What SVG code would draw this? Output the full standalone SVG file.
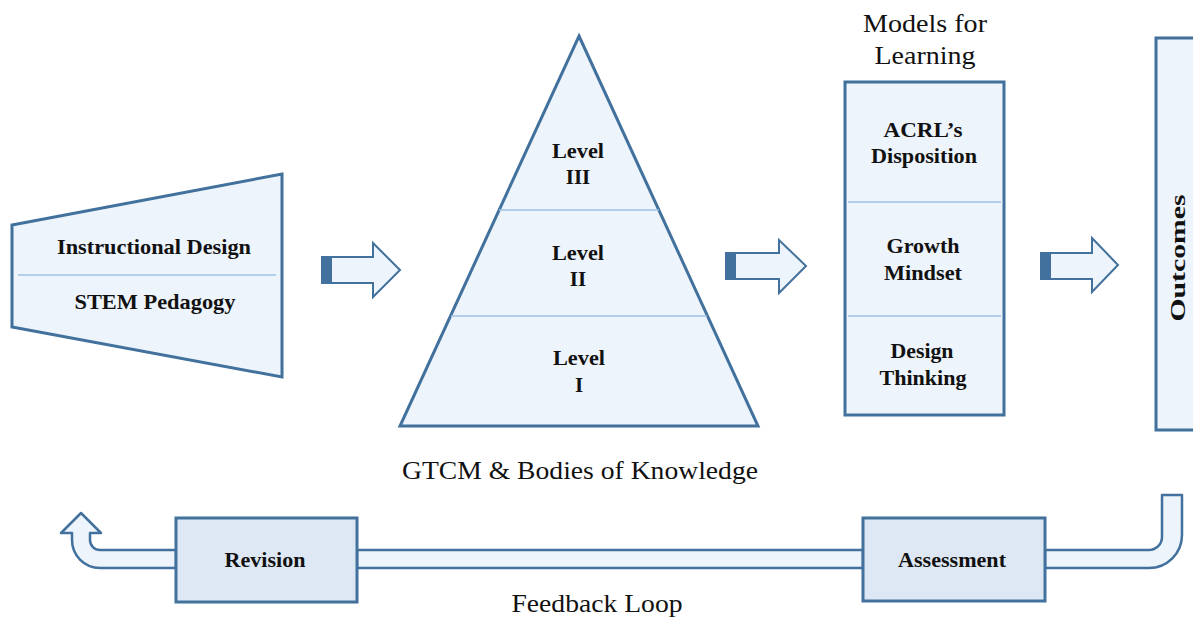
<svg xmlns="http://www.w3.org/2000/svg" width="1193" height="617" viewBox="0 0 1193 617">
<style>
.shape{fill:#EDF4FB;stroke:#41719C;stroke-width:3;stroke-linejoin:miter}
.box{fill:#DEE8F4;stroke:#41719C;stroke-width:3}
.div{stroke:#9DC3E6;stroke-width:1.5;fill:none}
.arrow{fill:#EDF4FB;stroke:#41719C;stroke-width:2}
.pipe{fill:#EDF4FB;stroke:#41719C;stroke-width:2.5;stroke-linejoin:round}
.dark{fill:#41719C}
.b{font-family:"Liberation Serif","Times New Roman",serif;font-weight:bold;font-size:21px;fill:#111;text-anchor:middle}
.r{font-family:"Liberation Serif","Times New Roman",serif;font-size:25px;fill:#111;text-anchor:middle}
</style>
<rect width="1193" height="617" fill="#ffffff"/>

<g id="instructional">
<path class="shape" d="M12,225 L282,174 L282,377 L12,327 Z"/>
<line class="div" x1="18" y1="275" x2="276" y2="275"/>
<text class="b" x="154" y="254" textLength="194" lengthAdjust="spacingAndGlyphs">Instructional Design</text>
<text class="b" x="155" y="309" textLength="161" lengthAdjust="spacingAndGlyphs">STEM Pedagogy</text>
</g>

<g id="pyramid">
<path class="shape" d="M579,36 L758,426 L400,426 Z"/>
<line class="div" x1="499" y1="210" x2="659" y2="210"/>
<line class="div" x1="451" y1="316" x2="707" y2="316"/>
<text class="b" x="578" y="158" textLength="52" lengthAdjust="spacingAndGlyphs">Level</text>
<text class="b" x="578" y="184">III</text>
<text class="b" x="578" y="260" textLength="52" lengthAdjust="spacingAndGlyphs">Level</text>
<text class="b" x="578" y="286">II</text>
<text class="b" x="579" y="365" textLength="52" lengthAdjust="spacingAndGlyphs">Level</text>
<text class="b" x="579" y="392">I</text>
<text class="r" x="580" y="479" font-size="26" textLength="356" lengthAdjust="spacingAndGlyphs">GTCM &amp; Bodies of Knowledge</text>
</g>

<g id="models">
<text class="r" x="925" y="32" textLength="124" lengthAdjust="spacingAndGlyphs">Models for</text>
<text class="r" x="925" y="64" textLength="101" lengthAdjust="spacingAndGlyphs">Learning</text>
<rect class="shape" x="845" y="82" width="159" height="333"/>
<line class="div" x1="848" y1="202" x2="1001" y2="202"/>
<line class="div" x1="848" y1="316" x2="1001" y2="316"/>
<text class="b" x="923" y="137" textLength="79" lengthAdjust="spacingAndGlyphs">ACRL’s</text>
<text class="b" x="924" y="163" textLength="106" lengthAdjust="spacingAndGlyphs">Disposition</text>
<text class="b" x="923" y="253" textLength="73" lengthAdjust="spacingAndGlyphs">Growth</text>
<text class="b" x="923" y="280" textLength="78" lengthAdjust="spacingAndGlyphs">Mindset</text>
<text class="b" x="922" y="358" textLength="63" lengthAdjust="spacingAndGlyphs">Design</text>
<text class="b" x="923" y="385" textLength="87" lengthAdjust="spacingAndGlyphs">Thinking</text>
</g>

<g id="outcomes">
<rect class="shape" x="1156" y="38" width="60" height="392"/>
<text class="b" transform="translate(1185,258) rotate(-90)" x="0" y="0" font-size="25" textLength="127" lengthAdjust="spacingAndGlyphs">Outcomes</text>
</g>

<g id="connectors">
<path class="arrow" d="M322,257 L373,257 L373,243 L400,270 L373,297 L373,283 L322,283 Z"/>
<rect class="dark" x="322" y="257" width="10" height="26"/>
<path class="arrow" d="M726,253 L779,253 L779,240 L806,266 L779,293 L779,279 L726,279 Z"/>
<rect class="dark" x="726" y="253" width="10" height="26"/>
<path class="arrow" d="M1041,253 L1092,253 L1092,238 L1118,265 L1092,292 L1092,279 L1041,279 Z"/>
<rect class="dark" x="1041" y="253" width="10" height="26"/>
<path class="pipe" d="M1045,550 L1149,550 A13,13 0 0 0 1162,537 L1162,495 L1182,495 L1182,535 A33,33 0 0 1 1149,568 L1045,568 Z"/>
<path class="pipe" d="M357,550 L863,550 L863,568 L357,568 Z"/>
<path class="pipe" d="M101,533 L81,513 L61,533 L72,533 L72,540 A28,28 0 0 0 100,568 L176,568 L176,550 L100,550 A10,10 0 0 1 90,540 L90,533 Z"/>
<text class="r" x="597" y="612" font-size="24" textLength="171" lengthAdjust="spacingAndGlyphs">Feedback Loop</text>
</g>

<g id="revision">
<rect class="box" x="176" y="518" width="181" height="84"/>
<text class="b" x="265" y="567" textLength="81" lengthAdjust="spacingAndGlyphs">Revision</text>
</g>

<g id="assessment">
<rect class="box" x="863" y="518" width="182" height="83"/>
<text class="b" x="952" y="567" textLength="108" lengthAdjust="spacingAndGlyphs">Assessment</text>
</g>
</svg>
